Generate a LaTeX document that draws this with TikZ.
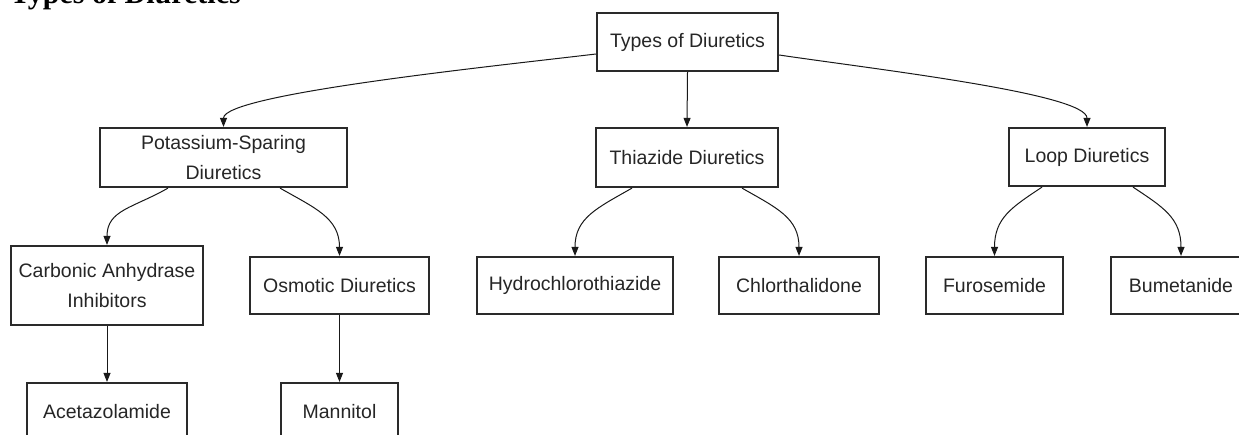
\documentclass[tikz,border=0pt]{standalone}
\usepackage{fontspec}
\setmainfont{Liberation Sans}
\newfontfamily\headfont{Liberation Serif}
\usetikzlibrary{arrows.meta,calc}
\definecolor{boxline}{HTML}{2A2A2A}
\definecolor{txt}{HTML}{262626}
\tikzset{
  box/.style={draw=boxline, line width=2.2pt, fill=white, rectangle, inner sep=0pt,
    text=txt, font=\fontsize{19.5}{29.5}\selectfont, align=center},
  conn/.style={draw=black!90, line width=1pt, -{Triangle[width=7pt,length=9pt]}}
}
\begin{document}
\begin{tikzpicture}[x=1pt,y=-1pt]
\useasboundingbox (0,0) rectangle (1239,434);
\clip (0,0) rectangle (1239,434);
\fill[white] (0,0) rectangle (1239,434);
% heading (cut off at top)
\node[anchor=south west, inner sep=0pt, font=\headfont\bfseries\fontsize{30}{30}\selectfont] (head) at (10,10) {Types of Diuretics};
% boxes
\node[box, minimum width=181pt, minimum height=58pt] (root) at (687.5,42) {Types of Diuretics};
\node[box, minimum width=247pt, minimum height=59pt] (pot) at (223.5,157.5) {Potassium-Sparing\\Diuretics};
\node[box, minimum width=182pt, minimum height=59pt] (thi) at (687,157.5) {Thiazide Diuretics};
\node[box, minimum width=156pt, minimum height=58pt] (loop) at (1087,157) {Loop Diuretics};
\node[box, minimum width=192pt, minimum height=79pt] (carb) at (107,285.5) {Carbonic Anhydrase\\Inhibitors};
\node[box, minimum width=179pt, minimum height=57pt] (osm) at (339.5,285.5) {Osmotic Diuretics};
\node[box, minimum width=196pt, minimum height=57pt] (hyd) at (575,285.5) {Hydrochlorothiazide};
\node[box, minimum width=160pt, minimum height=57pt] (chl) at (799,285.5) {Chlorthalidone};
\node[box, minimum width=137pt, minimum height=57pt] (fur) at (994.5,285.5) {Furosemide};
\node[box, minimum width=140pt, minimum height=57pt] (bum) at (1181,285.5) {Bumetanide};
\node[box, minimum width=160pt, minimum height=58pt] (acet) at (107,412) {Acetazolamide};
\node[box, minimum width=117pt, minimum height=58pt] (mann) at (339.5,412) {Mannitol};
% connectors
\draw[conn] ([yshift=-12pt]root.west) .. controls +(-100,12) and +(0,-33) .. (pot.north);
\draw[conn] (root.south) -- (thi.north);
\draw[conn] ([yshift=-13pt]root.east) .. controls +(102,15) and +(0,-33) .. (loop.north);
\draw[conn] ([xshift=-55.5pt]pot.south) .. controls +(-35,20) and +(0,-35) .. (carb.north);
\draw[conn] ([xshift=56.5pt]pot.south) .. controls +(35,20) and +(0,-38) .. (osm.north);
\draw[conn] ([xshift=-55pt]thi.south) .. controls +(-35,20) and +(0,-38) .. (hyd.north);
\draw[conn] ([xshift=55pt]thi.south) .. controls +(35,20) and +(0,-38) .. (chl.north);
\draw[conn] ([xshift=-45pt]loop.south) .. controls +(-30,20) and +(0,-38) .. (fur.north);
\draw[conn] ([xshift=46pt]loop.south) .. controls +(30,20) and +(0,-38) .. (bum.north);
\draw[conn] (carb.south) -- (acet.north);
\draw[conn] (osm.south) -- (mann.north);
\end{tikzpicture}
\end{document}
